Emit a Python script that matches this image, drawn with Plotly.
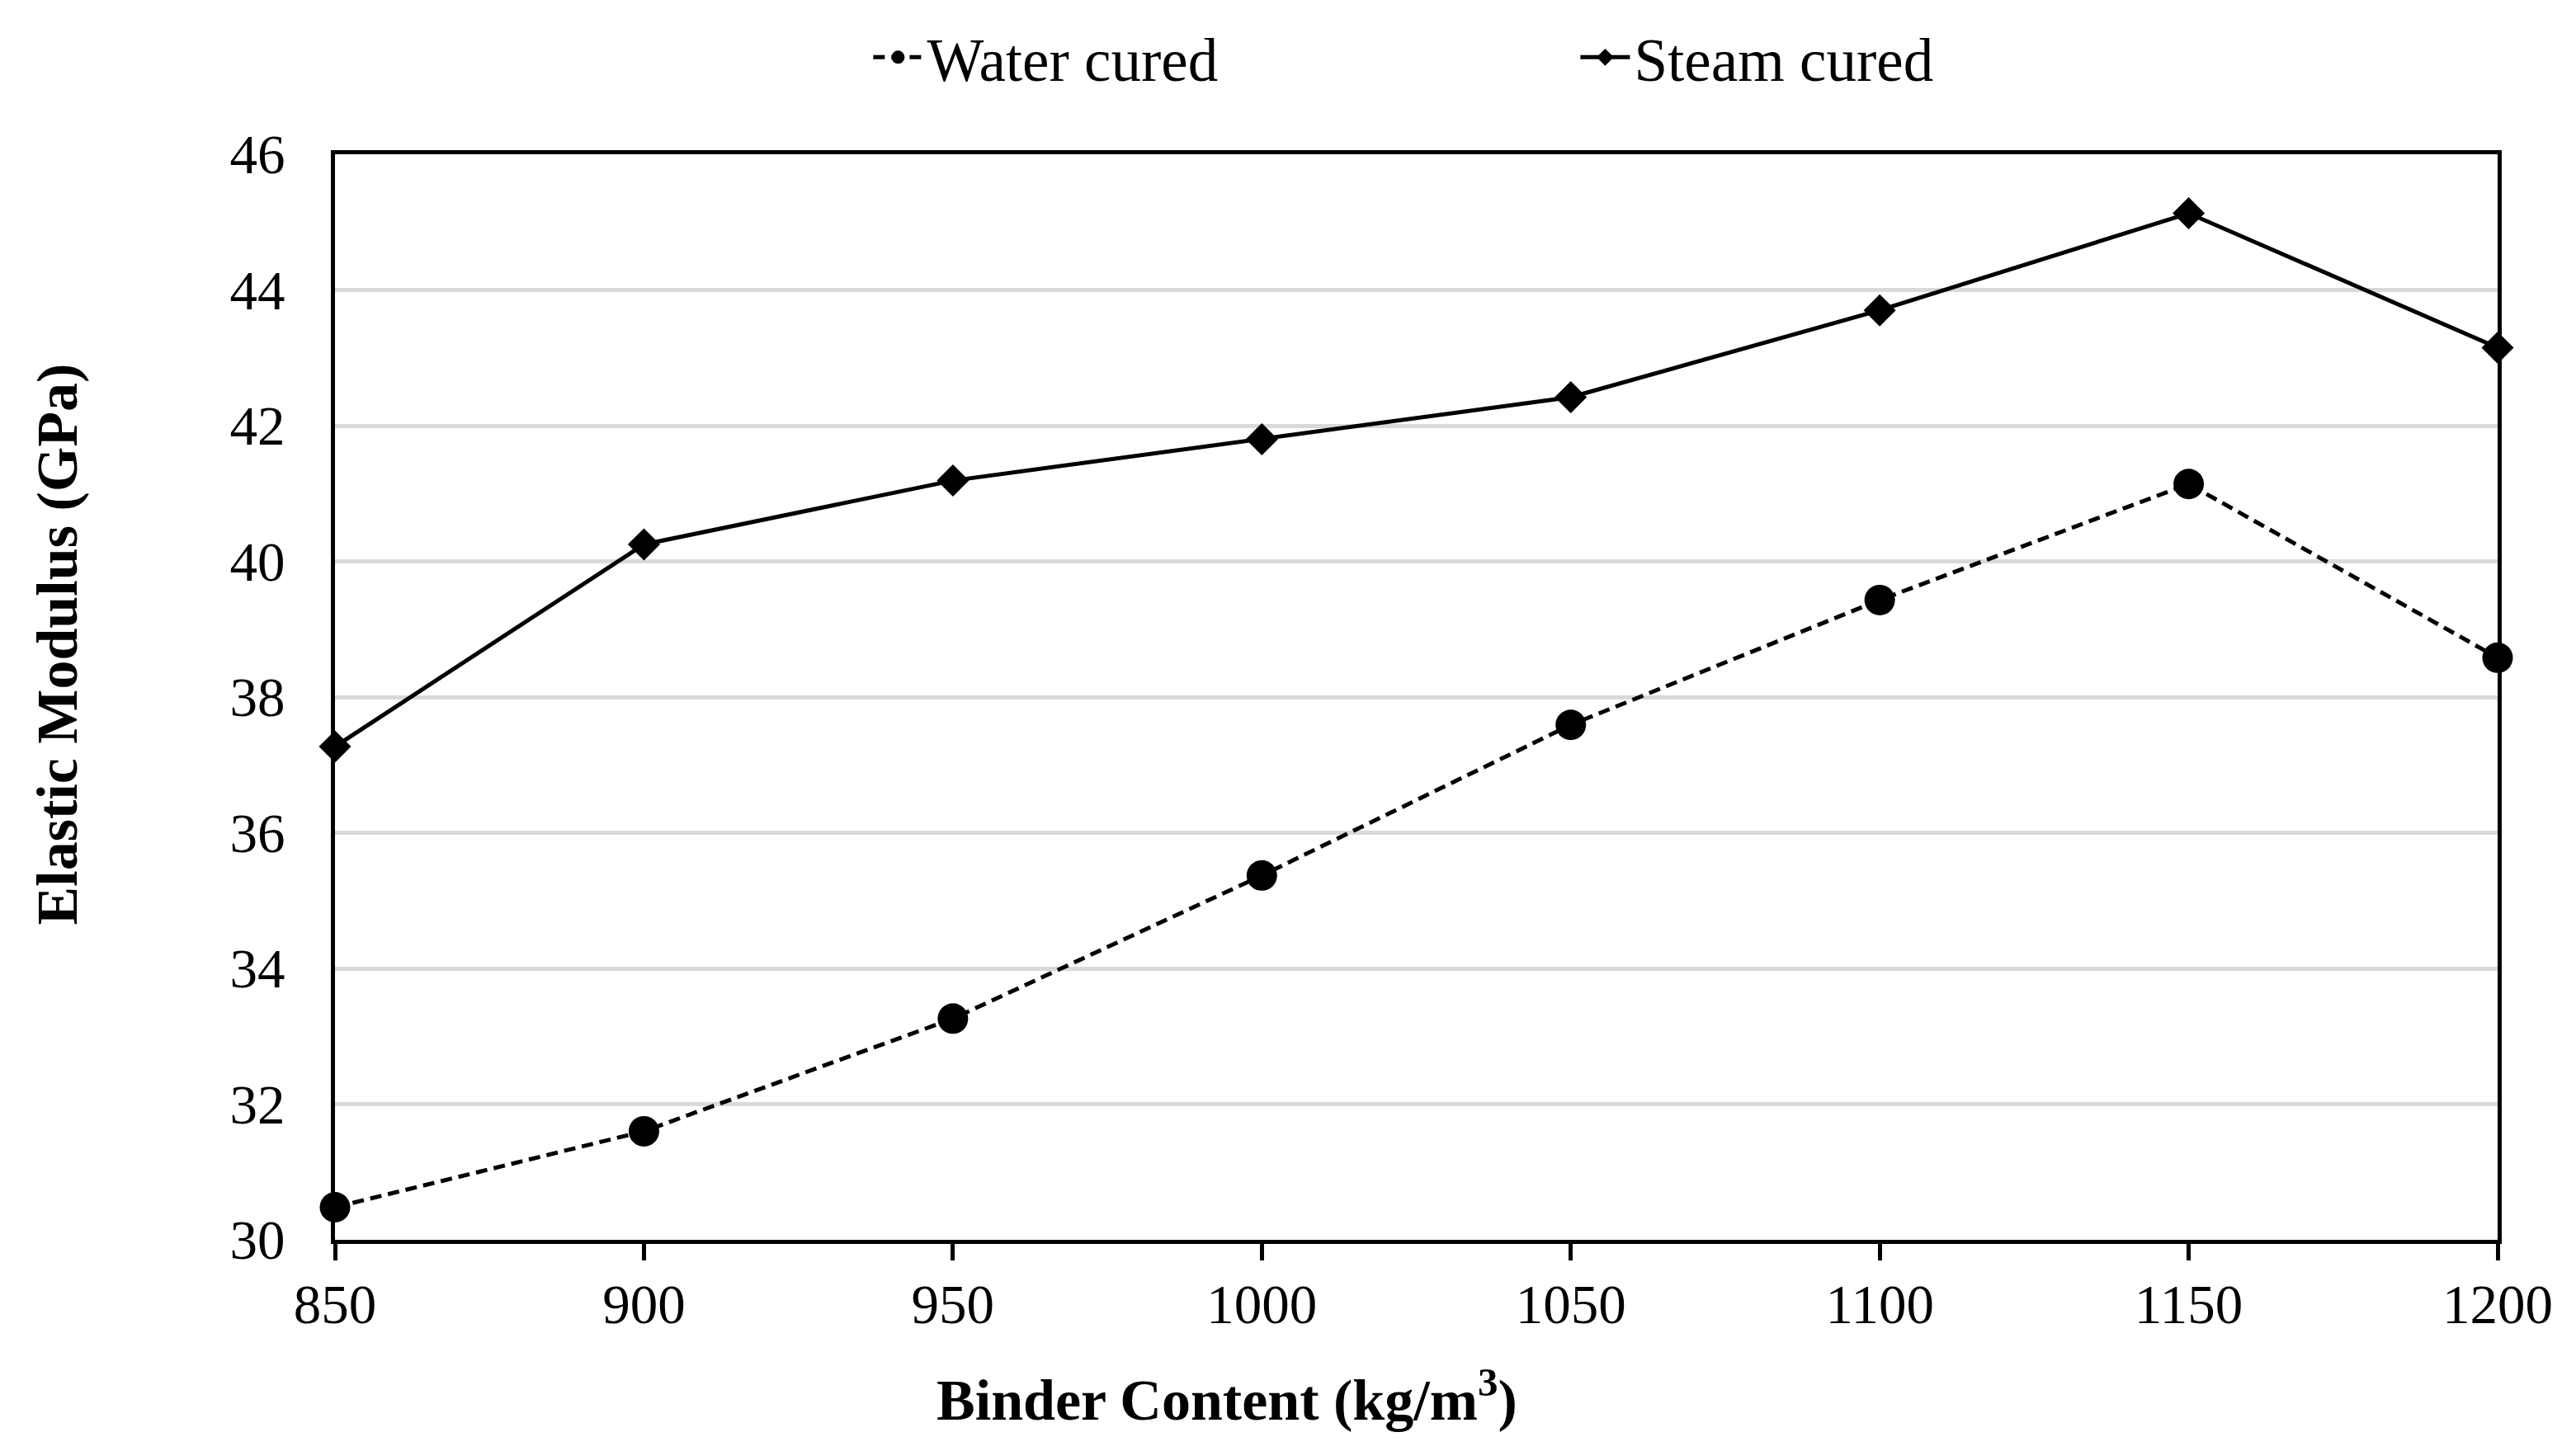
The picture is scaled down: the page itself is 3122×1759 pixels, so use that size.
import plotly.graph_objects as go

binder = [850, 900, 950, 1000, 1050, 1100, 1150, 1200]
water_cured = [30.48, 31.60, 33.26, 35.37, 37.59, 39.43, 41.14, 38.58]
steam_cured = [37.27, 40.25, 41.19, 41.80, 42.42, 43.70, 45.13, 43.15]
y_ticks = [30, 32, 34, 36, 38, 40, 42, 44, 46]

FONT = "Liberation Serif"

fig = go.Figure()
fig.add_trace(go.Scatter(
    x=binder, y=water_cured, name="Water cured", mode="lines+markers",
    line=dict(color="black", width=5, dash="14px,8px"),
    marker=dict(symbol="circle", size=37, color="black"),
    cliponaxis=False,
))
fig.add_trace(go.Scatter(
    x=binder, y=steam_cured, name="Steam cured", mode="lines+markers",
    line=dict(color="black", width=5),
    marker=dict(symbol="diamond", size=30, color="black"),
    cliponaxis=False,
))

fig.update_layout(
    width=3106, height=1743,
    margin=dict(l=398, r=87, t=179, b=248, autoexpand=False),
    paper_bgcolor="white", plot_bgcolor="white",
    font=dict(family=FONT, size=67, color="black"),
    showlegend=True,
    legend=dict(orientation="h", x=0.247, xanchor="left", y=1.0894, yanchor="middle",
                font=dict(family=FONT, size=73, color="black"),
                entrywidth=782, entrywidthmode="pixels", itemwidth=60,
                bgcolor="rgba(0,0,0,0)"),
    annotations=[
        dict(text="<b>Elastic Modulus (GPa)</b>", xref="paper", yref="paper",
             x=-0.1285, y=0.5485, xanchor="center", yanchor="middle", textangle=-90,
             showarrow=False, font=dict(family=FONT, size=70, color="black")),
        dict(text="<b>Binder Content (kg/m<sup>3</sup>)</b>", xref="paper", yref="paper",
             x=0.4126, y=-0.1434, xanchor="center", yanchor="middle",
             showarrow=False, font=dict(family=FONT, size=70, color="black")),
    ],
)
fig.update_xaxes(
    range=[850, 1200], tickmode="array", tickvals=binder, ticktext=[str(v) for v in binder],
    showline=True, linecolor="black", linewidth=5, mirror=True,
    ticks="outside", ticklen=20, tickwidth=5, tickcolor="black",
    showgrid=False, zeroline=False, ticklabelstandoff=-4,
)
fig.update_yaxes(
    range=[30, 46], tickmode="array", tickvals=y_ticks, ticktext=[str(v) for v in y_ticks],
    showline=True, linecolor="black", linewidth=5, mirror=True,
    ticks="", showgrid=True, gridcolor="#d9d9d9", gridwidth=4.5, zeroline=False,
    ticklabelstandoff=42,
)

fig.write_html("out.html")
